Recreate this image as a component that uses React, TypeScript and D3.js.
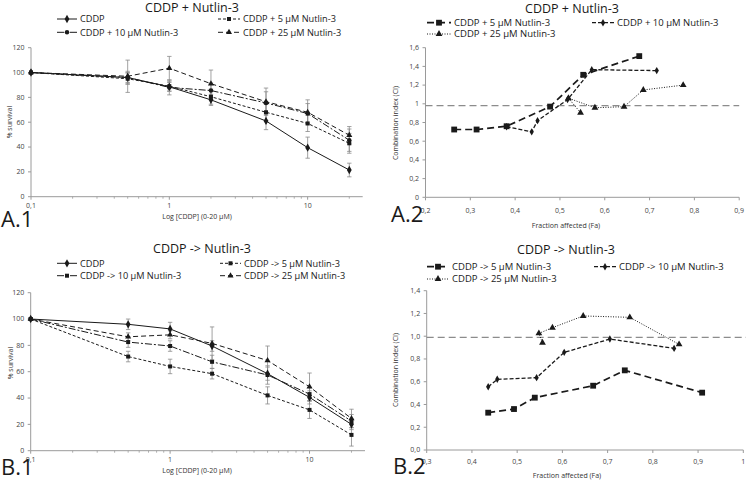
import React from 'react';
import * as d3 from 'd3';

// ---------- DATA ----------
const doses = [0.1, 0.5, 1, 2, 5, 10, 20];

// A.1  CDDP + Nutlin-3 (% survival)
const a1Cddp = [100, 96, 88.5, 78, 61, 39.5, 21.5];
const a1Cddp5 = [100, 95, 89, 80.5, 68, 59, 43];
const a1Cddp10 = [100, 96, 88, 85.5, 75.5, 67, 45.5];
const a1Cddp25 = [100, 97, 103.5, 91, 76.5, 68, 49.5];
const a1ErrCddp = [0, 4, 3.5, 4.5, 7, 8.5, 5.5];
const a1Err5 = [0, 4.5, 4, 6, 6.5, 6.5, 8];
const a1Err10 = [0, 5, 6, 6, 9, 8, 9];
const a1Err25 = [0, 13, 9.5, 11, 11, 10, 7];

// B.1  CDDP -> Nutlin-3 (% survival)
const b1Cddp = [100, 96, 92.5, 79.5, 58.5, 40.5, 20];
const b1Cddp5 = [100, 71.5, 64, 58.5, 42, 31, 12];
const b1Cddp10 = [100, 82.5, 79.5, 67.5, 57.5, 43, 22.5];
const b1Cddp25 = [100, 86.5, 88, 81.5, 68.5, 48.5, 24.5];
const b1ErrCddp = [0, 4, 5, 4, 5, 5, 4];
const b1Err5 = [0, 4, 5.5, 4, 6.5, 6.5, 8.5];
const b1Err10 = [0, 4, 4, 5, 7, 5, 5];
const b1Err25 = [0, 3, 3, 12.5, 11, 10.5, 7];

// A.2  Combination index vs Fa
const a2Fa5 = [0.264, 0.314, 0.381, 0.478, 0.552, 0.677];
const a2Ci5 = [0.725, 0.725, 0.76, 0.97, 1.31, 1.51];
const a2Fa10 = [0.381, 0.437, 0.45, 0.517, 0.571, 0.716];
const a2Ci10 = [0.755, 0.7, 0.82, 1.045, 1.365, 1.355];
const a2Fa25 = [0.546, 0.519, 0.578, 0.643, 0.686, 0.775];
const a2Ci25 = [0.905, 1.06, 0.958, 0.969, 1.148, 1.2];
const a2Ref = 0.98;

// B.2
const b2Fa5 = [0.436, 0.493, 0.539, 0.668, 0.738, 0.909];
const b2Ci5 = [0.328, 0.36, 0.46, 0.565, 0.7, 0.504];
const b2Fa10 = [0.436, 0.456, 0.543, 0.604, 0.705, 0.847];
const b2Ci10 = [0.556, 0.621, 0.636, 0.858, 0.975, 0.893];
const b2Fa25 = [0.556, 0.548, 0.578, 0.646, 0.749, 0.858];
const b2Ci25 = [0.943, 1.025, 1.075, 1.178, 1.166, 0.928];
const b2Ref = 0.99;

// ticks
const logTicks = [0.1, 1, 10];
const logTickLabels = ['0,1', '1', '10'];
const survTicks = [0, 20, 40, 60, 80, 100, 120];
const survTickLabels = ['0', '20', '40', '60', '80', '100', '120'];
const a2XTicks = [0.2, 0.3, 0.4, 0.5, 0.6, 0.7, 0.8, 0.9];
const a2XTickLabels = ['0,2', '0,3', '0,4', '0,5', '0,6', '0,7', '0,8', '0,9'];
const a2YTicks = [0, 0.2, 0.4, 0.6, 0.8, 1, 1.2, 1.4, 1.6];
const a2YTickLabels = ['0', '0,2', '0,4', '0,6', '0,8', '1', '1,2', '1,4', '1,6'];
const b2XTicks = [0.3, 0.4, 0.5, 0.6, 0.7, 0.8, 0.9, 1];
const b2XTickLabels = ['0,3', '0,4', '0,5', '0,6', '0,7', '0,8', '0,9', '1'];
const b2YTicks = [0, 0.2, 0.4, 0.6, 0.8, 1, 1.2, 1.4];
const b2YTickLabels = ['0,0', '0,2', '0,4', '0,6', '0,8', '1,0', '1,2', '1,4'];

// ---------- DRAWING ----------
const FONT = '"Open Sans", "Liberation Sans", sans-serif';
const INK = '#1a1a1a';
const AXIS = '#9a9a9a';

type Ser = {
  xs: number[]; ys: number[]; errs?: number[];
  dash: string; width: number; marker: string; msize: number;
};

const symTypes: Record<string, d3.SymbolType> = {
  diamond: d3.symbolDiamond,
  square: d3.symbolSquare,
  circle: d3.symbolCircle,
  triangle: d3.symbolTriangle,
};

function Marker({ type, x, y, size }: { type: string; x: number; y: number; size: number }) {
  const p = d3.symbol().type(symTypes[type]).size(size)();
  return <path d={p || ''} transform={`translate(${x},${y})`} fill={INK} />;
}

type LegendItem = { label: string; x: number; y: number; len: number; s: Ser };

function Panel(props: {
  xs: any; ys: any; xTicks: number[]; xTickLabels: string[]; minorX?: number[];
  yTicks: number[]; yTickLabels: string[]; series: Ser[]; refY?: number;
  title: string; titleX: number; titleY: number; legend: LegendItem[]; legendFont: number;
  xLabel: string; xLabelX: number; xLabelY: number;
  yLabel: string; yLabelX: number; yLabelY: number;
  tag: string; tagX: number; tagY: number; xTickY: number; refX2?: number;
}) {
  const { xs, ys } = props;
  const [x0, x1] = xs.range();
  const [y0, y1] = ys.range(); // y0 bottom
  const line = d3.line<[number, number]>().x(d => xs(d[0])).y(d => ys(d[1]));
  return (
    <g>
      <text x={props.titleX} y={props.titleY} textAnchor="middle" fontSize={12.5} fill={INK}>{props.title}</text>
      {/* axes */}
      <line x1={x0} x2={x1} y1={y0} y2={y0} stroke={AXIS} strokeWidth={1} />
      <line x1={x0} x2={x0} y1={y0} y2={y1} stroke={AXIS} strokeWidth={1} />
      {props.yTicks.map((t, i) => (
        <g key={'yt' + i}>
          <line x1={x0 - 3} x2={x0} y1={ys(t)} y2={ys(t)} stroke={AXIS} />
          <text x={x0 - 6.5} y={ys(t) + 2.3} textAnchor="end" fontSize={7} fill="#444">{props.yTickLabels[i]}</text>
        </g>
      ))}
      {props.xTicks.map((t, i) => (
        <g key={'xt' + i}>
          <line x1={xs(t)} x2={xs(t)} y1={y0} y2={y0 + 3} stroke={AXIS} />
          <text x={xs(t)} y={props.xTickY} textAnchor="middle" fontSize={7} fill="#444">{props.xTickLabels[i]}</text>
        </g>
      ))}
      {(props.minorX || []).map((t, i) => (
        <line key={'mx' + i} x1={xs(t)} x2={xs(t)} y1={y0} y2={y0 + 2} stroke={AXIS} strokeWidth={0.8} />
      ))}
      {props.refY !== undefined && (
        <line x1={x0} x2={props.refX2 ?? x1} y1={ys(props.refY)} y2={ys(props.refY)} stroke="#8c8c8c" strokeWidth={1.1} strokeDasharray="7,4" />
      )}
      {/* error bars */}
      {props.series.map((s, si) => s.errs ? s.errs.map((e, i) => e > 0 ? (
        <g key={`e${si}-${i}`} stroke="#8a8a8a" strokeWidth={0.8}>
          <line x1={xs(s.xs[i])} x2={xs(s.xs[i])} y1={ys(s.ys[i] - e)} y2={ys(s.ys[i] + e)} />
          <line x1={xs(s.xs[i]) - 2.2} x2={xs(s.xs[i]) + 2.2} y1={ys(s.ys[i] - e)} y2={ys(s.ys[i] - e)} />
          <line x1={xs(s.xs[i]) - 2.2} x2={xs(s.xs[i]) + 2.2} y1={ys(s.ys[i] + e)} y2={ys(s.ys[i] + e)} />
        </g>
      ) : null) : null)}
      {/* lines */}
      {props.series.map((s, si) => (
        <g key={'s' + si}>
          <path d={line(s.xs.map((x, i) => [x, s.ys[i]] as [number, number])) || ''} fill="none" stroke={INK} strokeWidth={s.width} strokeDasharray={s.dash} />
          {s.xs.map((x, i) => <Marker key={i} type={s.marker} x={xs(x)} y={ys(s.ys[i])} size={s.msize} />)}
        </g>
      ))}
      {/* legend */}
      {props.legend.map((l, i) => (
        <g key={'l' + i}>
          <line x1={l.x} x2={l.x + l.len} y1={l.y} y2={l.y} stroke={INK} strokeWidth={l.s.width} strokeDasharray={l.s.dash} />
          <Marker type={l.s.marker} x={l.x + l.len / 2} y={l.y} size={l.s.msize} />
          <text x={l.x + l.len + 3} y={l.y + 3.2} fontSize={props.legendFont} fill={INK}>{l.label}</text>
        </g>
      ))}
      <text x={props.xLabelX} y={props.xLabelY} textAnchor="middle" fontSize={7} fill="#333">{props.xLabel}</text>
      <text transform={`translate(${props.yLabelX},${props.yLabelY}) rotate(-90)`} textAnchor="middle" fontSize={7} fill="#333">{props.yLabel}</text>
      <text x={props.tagX} y={props.tagY} fontSize={22} fill={INK}>{props.tag}</text>
    </g>
  );
}

const minorLog: number[] = [];
[0.1, 1, 10].forEach(d => { for (let k = 2; k <= 9; k++) if (d * k <= 25) minorLog.push(d * k); });

export default function App() {
  // scales
  const xA1 = d3.scaleLog().domain([0.1, 25]).range([31, 362.7]);
  const yA1 = d3.scaleLinear().domain([0, 120]).range([196.7, 47.7]);
  const xB1 = d3.scaleLog().domain([0.1, 25]).range([30.7, 365]);
  const yB1 = d3.scaleLinear().domain([0, 120]).range([450.7, 292.7]);
  const xA2 = d3.scaleLinear().domain([0.2, 0.9]).range([425.5, 739.2]);
  const yA2 = d3.scaleLinear().domain([0, 1.6]).range([197.3, 47.7]);
  const xB2 = d3.scaleLinear().domain([0.3, 1.0]).range([426.7, 743.3]);
  const yB2 = d3.scaleLinear().domain([0, 1.4]).range([450, 290.7]);

  const sCddp = (ys: number[], errs: number[]): Ser => ({ xs: doses, ys, errs, dash: '', width: 1, marker: 'diamond', msize: 20 });
  const s5 = (ys: number[], errs: number[]): Ser => ({ xs: doses, ys, errs, dash: '3,2', width: 1, marker: 'square', msize: 16 });
  const s10 = (ys: number[], errs: number[], m = 'circle'): Ser => ({ xs: doses, ys, errs, dash: '7,2,2,2', width: 1, marker: m, msize: 16 });
  const s25 = (ys: number[], errs: number[]): Ser => ({ xs: doses, ys, errs, dash: '5,3', width: 1, marker: 'triangle', msize: 16 });

  const a1 = [sCddp(a1Cddp, a1ErrCddp), s5(a1Cddp5, a1Err5), s10(a1Cddp10, a1Err10), s25(a1Cddp25, a1Err25)];
  const b1 = [sCddp(b1Cddp, b1ErrCddp), s5(b1Cddp5, b1Err5), s10(b1Cddp10, b1Err10, 'square'), s25(b1Cddp25, b1Err25)];

  const c5 = (xs: number[], ys: number[]): Ser => ({ xs, ys, dash: '7,4', width: 1.7, marker: 'square', msize: 34 });
  const c10 = (xs: number[], ys: number[]): Ser => ({ xs, ys, dash: '4,2', width: 1.3, marker: 'diamond', msize: 16 });
  const c25 = (xs: number[], ys: number[]): Ser => ({ xs, ys, dash: '1,1.5', width: 1, marker: 'triangle', msize: 20 });

  const a2 = [c5(a2Fa5, a2Ci5), c10(a2Fa10, a2Ci10), c25(a2Fa25, a2Ci25)];
  const b2 = [c5(b2Fa5, b2Ci5), c10(b2Fa10, b2Ci10), c25(b2Fa25, b2Ci25)];

  return (
    <svg width={748} height={483} style={{ position: 'absolute', left: 0, top: 0, background: '#fff' }} fontFamily={FONT}>
      <rect width={748} height={483} fill="#fff" />
      <Panel xs={xA1} ys={yA1} xTicks={logTicks} xTickLabels={logTickLabels} minorX={minorLog}
        yTicks={survTicks} yTickLabels={survTickLabels} series={a1}
        title="CDDP + Nutlin-3" titleX={192} titleY={12} legendFont={9.2}
        legend={[
          { label: 'CDDP', x: 57, y: 19, len: 20, s: a1[0] },
          { label: 'CDDP + 5 μM Nutlin-3', x: 218, y: 19, len: 22, s: a1[1] },
          { label: 'CDDP + 10 μM Nutlin-3', x: 57, y: 32.3, len: 20, s: a1[2] },
          { label: 'CDDP + 25 μM Nutlin-3', x: 218, y: 32.3, len: 22, s: a1[3] },
        ]}
        xLabel="Log [CDDP] (0-20 μM)" xLabelX={197} xLabelY={218.5}
        yLabel="% survival" yLabelX={12} yLabelY={122}
        tag="A.1" tagX={1} tagY={227} xTickY={208} />
      <Panel xs={xA2} ys={yA2} xTicks={a2XTicks} xTickLabels={a2XTickLabels}
        yTicks={a2YTicks} yTickLabels={a2YTickLabels} series={a2} refY={a2Ref}
        title="CDDP + Nutlin-3" titleX={572} titleY={13} legendFont={9.5}
        legend={[
          { label: 'CDDP + 5 μM Nutlin-3', x: 427, y: 22.7, len: 24, s: a2[0] },
          { label: 'CDDP + 10 μM Nutlin-3', x: 592, y: 22.7, len: 22, s: a2[1] },
          { label: 'CDDP + 25 μM Nutlin-3', x: 427, y: 34, len: 24, s: a2[2] },
        ]}
        xLabel="Fraction affected (Fa)" xLabelX={566} xLabelY={227.5}
        yLabel="Combination index (CI)" yLabelX={397.5} yLabelY={123}
        tag="A.2" tagX={391} tagY={222} xTickY={213} />
      <Panel xs={xB1} ys={yB1} xTicks={logTicks} xTickLabels={logTickLabels} minorX={minorLog}
        yTicks={survTicks} yTickLabels={survTickLabels} series={b1}
        title="CDDP -> Nutlin-3" titleX={202} titleY={253} legendFont={9.2}
        legend={[
          { label: 'CDDP', x: 57, y: 263.3, len: 20, s: b1[0] },
          { label: 'CDDP -> 5 μM Nutlin-3', x: 220, y: 263.3, len: 21, s: b1[1] },
          { label: 'CDDP -> 10 μM Nutlin-3', x: 57, y: 275.7, len: 20, s: b1[2] },
          { label: 'CDDP -> 25 μM Nutlin-3', x: 220, y: 275.7, len: 21, s: b1[3] },
        ]}
        xLabel="Log [CDDP] (0-20 μM)" xLabelX={197} xLabelY={473}
        yLabel="% survival" yLabelX={13} yLabelY={363}
        tag="B.1" tagX={1} tagY={475} xTickY={462} />
      <Panel xs={xB2} ys={yB2} xTicks={b2XTicks} xTickLabels={b2XTickLabels}
        yTicks={b2YTicks} yTickLabels={b2YTickLabels} series={b2} refY={b2Ref} refX2={746}
        title="CDDP -> Nutlin-3" titleX={566} titleY={254} legendFont={9.5}
        legend={[
          { label: 'CDDP -> 5 μM Nutlin-3', x: 427, y: 266.7, len: 22, s: b2[0] },
          { label: 'CDDP -> 10 μM Nutlin-3', x: 594, y: 266.7, len: 22, s: b2[1] },
          { label: 'CDDP -> 25 μM Nutlin-3', x: 427, y: 279, len: 22, s: b2[2] },
        ]}
        xLabel="Fraction affected (Fa)" xLabelX={567} xLabelY={477.5}
        yLabel="Combination index (CI)" yLabelX={397.5} yLabelY={370}
        tag="B.2" tagX={393} tagY={473.5} xTickY={464} />
    </svg>
  );
}
